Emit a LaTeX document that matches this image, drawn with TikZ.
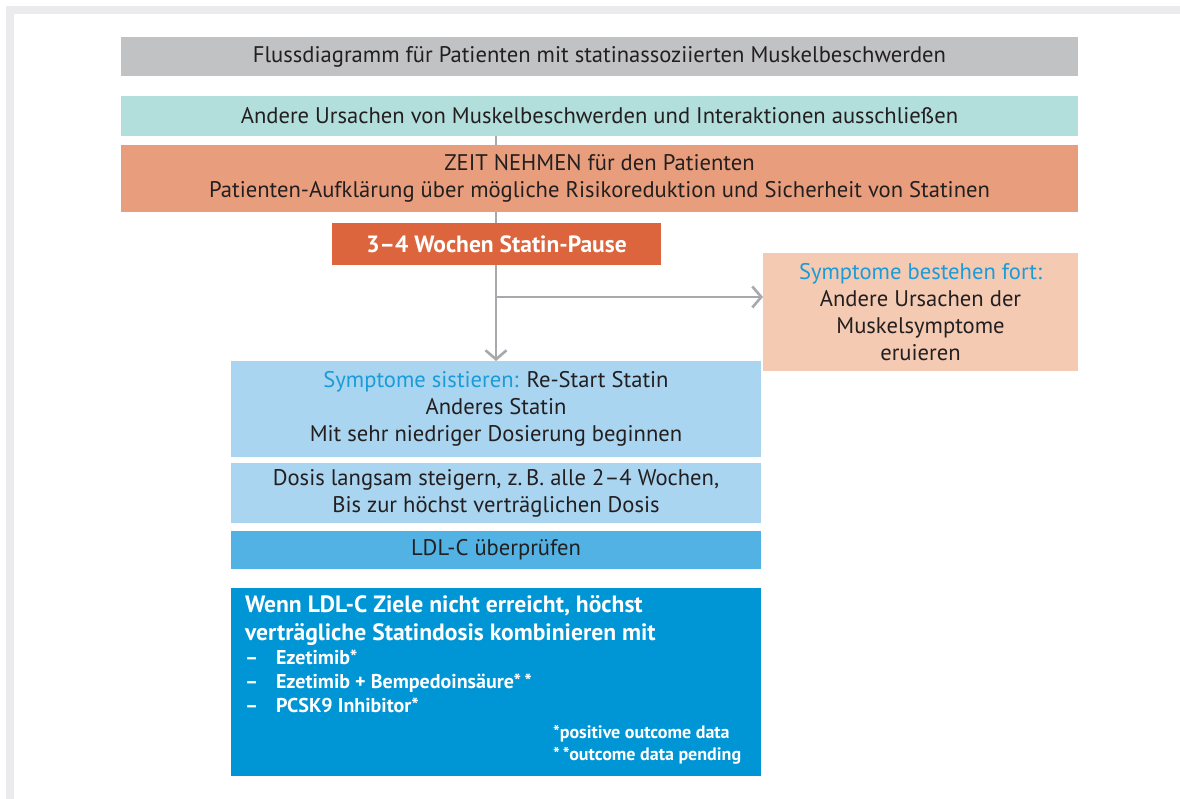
\documentclass[tikz,border=0pt]{standalone}
\usepackage{fontspec}
\setmainfont{PT Sans}
\usetikzlibrary{arrows.meta,backgrounds}

\definecolor{framegray}{RGB}{235,235,237}
\definecolor{titlegray}{RGB}{193,194,196}
\definecolor{mint}{RGB}{178,223,219}
\definecolor{salmon}{RGB}{232,158,124}
\definecolor{rust}{RGB}{221,101,61}
\definecolor{peach}{RGB}{244,202,179}
\definecolor{paleblue}{RGB}{169,213,240}
\definecolor{midblue}{RGB}{82,178,228}
\definecolor{deepblue}{RGB}{0,150,214}
\definecolor{hiblue}{RGB}{27,155,215}
\definecolor{textdark}{RGB}{35,31,32}
\definecolor{linegray}{RGB}{167,169,172}

\tikzset{
  box/.style={inner sep=0pt, outer sep=0pt, align=center, text=textdark,
    font=\fontsize{22.6}{27}\selectfont},
  flow/.style={draw=linegray, line width=2.6pt,
    -{Straight Barb[length=9pt,width=21pt]}},
  whitetext/.style={inner sep=0pt, outer sep=0pt, text=white, align=left}
}

\begin{document}
\begin{tikzpicture}[x=1pt,y=-1pt]
        \useasboundingbox (0,0) rectangle (1180,799);

        % Header and first steps
        \node (title) at (599.5,56.5) [box, fill=titlegray, minimum width=957pt, minimum height=39pt]
            {Flussdiagramm für Patienten mit statinassoziierten Muskelbeschwerden};
        \node (exclude) at (599.5,116) [box, fill=mint, minimum width=957pt, minimum height=40pt]
            {Andere Ursachen von Muskelbeschwerden und Interaktionen ausschließen};
        \node (talk) at (599.5,178.5) [box, fill=salmon, minimum width=957pt, minimum height=67pt]
            {ZEIT NEHMEN für den Patienten\\Patienten-Aufklärung über mögliche Risikoreduktion und Sicherheit von Statinen};
        \node (pause) at (496.5,244) [box, fill=rust, text=white, minimum width=329pt, minimum height=42pt,
            font=\fontsize{23.5}{27}\selectfont\bfseries]
            {3–4 Wochen Statin-Pause};

        % Symptoms persist
        \node (persist) at (920.5,312) [box, fill=peach, minimum width=315pt, minimum height=118pt]
            {\textcolor{hiblue}{Symptome bestehen fort:}\\Andere Ursachen der\\Muskelsymptome\\eruieren};

        % Symptoms stop
        \node (restart) at (496,409) [box, fill=paleblue, minimum width=530pt, minimum height=96pt]
            {\textcolor{hiblue}{Symptome sistieren:} Re-Start Statin\\Anderes Statin\\Mit sehr niedriger Dosierung beginnen};
        \node (titrate) at (496,493) [box, fill=paleblue, minimum width=530pt, minimum height=60pt]
            {Dosis langsam steigern, z.\,B. alle 2–4 Wochen,\\Bis zur höchst verträglichen Dosis};
        \node (check) at (496,550) [box, fill=midblue, minimum width=530pt, minimum height=38pt]
            {LDL-C überprüfen};
        \node (combi) at (496,682) [box, fill=deepblue, minimum width=530pt, minimum height=188pt] {};

        % Text in the combination box
        \node (combihead) at (245,595) [whitetext, anchor=north west, font=\fontsize{23.6}{28}\selectfont\bfseries]
            {Wenn LDL-C Ziele nicht erreicht, höchst\\verträgliche Statindosis kombinieren mit};
        \node (combilist) at (245,650) [whitetext, anchor=north west, font=\fontsize{20}{24}\selectfont\bfseries]
            {\makebox[31pt][l]{–}Ezetimib*\\
             \makebox[31pt][l]{–}Ezetimib + Bempedoinsäure*\,*\\
             \makebox[31pt][l]{–}PCSK9 Inhibitor*};
        \node (notes) at (553,725) [whitetext, anchor=north west, font=\fontsize{18}{22}\selectfont\bfseries]
            {*positive outcome data\\*\,*outcome data pending};

        % Frame and connectors
        \coordinate (split) at (496,297);
        \begin{scope}[on background layer]
            \fill[framegray] (6,6) rectangle (1180,799);
            \fill[white] (14,14) rectangle (1180,799);
            \draw[flow] (split |- exclude.south) -- (split |- restart.north);
            \draw[flow] (split) -- (split -| persist.west);
        \end{scope}
    \end{tikzpicture}
\end{document}
